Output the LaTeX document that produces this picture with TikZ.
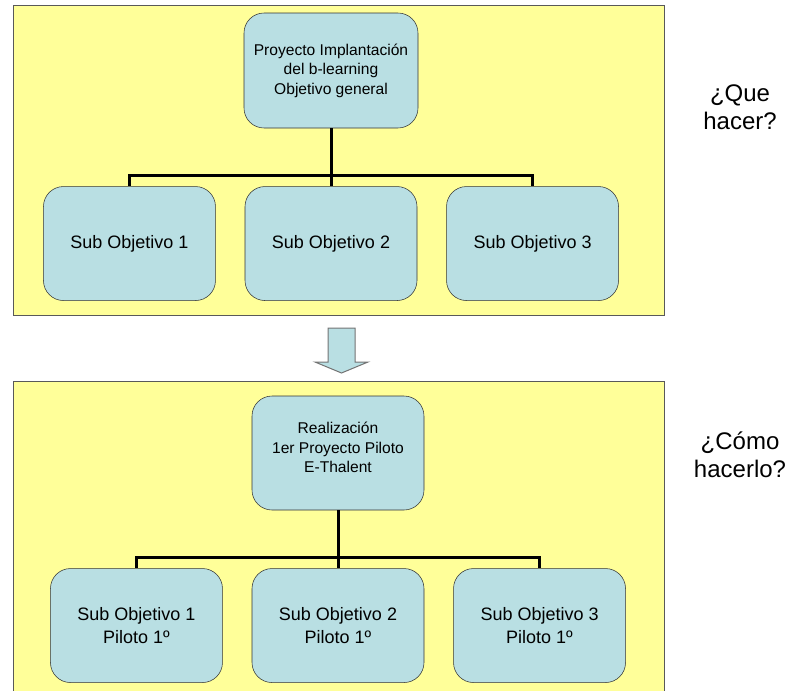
\documentclass[tikz,border=0pt]{standalone}
\usepackage{fontspec}
\setmainfont{Liberation Sans}
\usetikzlibrary{positioning}
\definecolor{panelfill}{RGB}{255,255,153}
\definecolor{boxfill}{RGB}{185,223,227}

\begin{document}
\begin{tikzpicture}[
  x=0.75pt, y=-0.75pt,
  node distance=43.5pt and 21.75pt,
  panel/.style={draw=black!65, fill=panelfill, line width=0.75pt},
  goal/.style={draw=black!80, fill=boxfill, rounded corners=15pt, minimum width=129pt, minimum height=85.5pt, align=center, inner sep=2pt, font=\fontsize{11.7}{14.6}\selectfont},
  subgoal/.style={goal, font=\fontsize{13.5}{17.2}\selectfont},
  question/.style={align=center, font=\fontsize{18}{21}\selectfont},
  link/.style={line width=2.25pt}
]
\useasboundingbox (0,0) rectangle (788,690);

% panels
\draw[panel] (13,5) rectangle (664,315);
\draw[panel] (13,381) rectangle (664,700);

% que hacer
\node[goal, minimum width=130.5pt, minimum height=86.25pt] (root1) at (331,70.5) {Proyecto Implantación\\del b-learning\\Objetivo general};
\node[subgoal, below=of root1] (sub2) {Sub Objetivo 2};
\node[subgoal, left=of sub2]   (sub1) {Sub Objetivo 1};
\node[subgoal, right=of sub2]  (sub3) {Sub Objetivo 3};

\coordinate (bus1) at (331,175);
\draw[link] (root1.south) -- (bus1);
\draw[link] (bus1) -| (sub1.north);
\draw[link] (bus1) -| (sub3.north);
\draw[link] (bus1) -- (sub2.north);

% como hacerlo
\node[goal] (root2) at (338,453) {Realización\\1er Proyecto Piloto\\E-Thalent\\[-6pt]};
\node[subgoal, below=of root2] (pil2) {Sub Objetivo 2\\Piloto 1º};
\node[subgoal, left=of pil2]   (pil1) {Sub Objetivo 1\\Piloto 1º};
\node[subgoal, right=of pil2]  (pil3) {Sub Objetivo 3\\Piloto 1º};

\coordinate (bus2) at (338,557);
\draw[link] (root2.south) -- (bus2);
\draw[link] (bus2) -| (pil1.north);
\draw[link] (bus2) -| (pil3.north);
\draw[link] (bus2) -- (pil2.north);

% arrow between panels
\draw[fill=boxfill, draw=black!55, line width=0.75pt]
  (328,328) -- (355,328) -- (355,362) -- (368,362) -- (341.5,373)
  -- (315,362) -- (328,362) -- cycle;

\node[question] (que)  at (740,107) {¿Que\\hacer?};
\node[question] (como) at (740,455) {¿Cómo\\hacerlo?};
\end{tikzpicture}
\end{document}
